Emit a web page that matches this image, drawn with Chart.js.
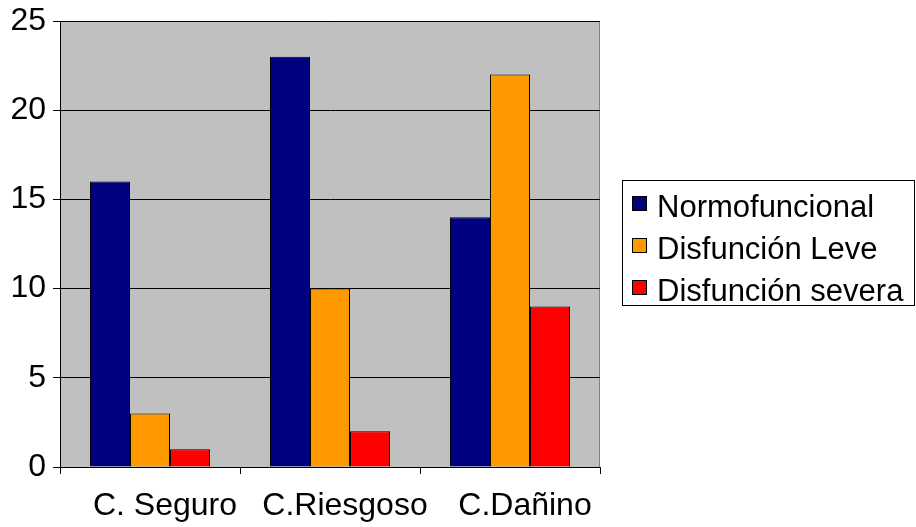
<!DOCTYPE html>
<html>
<head>
<meta charset="utf-8">
<script src="https://cdn.jsdelivr.net/npm/chart.js@4"></script>
<style>
  html, body { margin: 0; padding: 0; background: #ffffff; }
  #wrap { position: relative; width: 916px; height: 527px; }
</style>
</head>
<body>
<div id="wrap"><canvas id="chart"></canvas></div>
<script>
// datos
const categories = ['C. Seguro', 'C.Riesgoso', 'C.Dañino'];
const seriesNames = ['Normofuncional', 'Disfunción Leve', 'Disfunción severa'];
const normofuncional = [16, 23, 14];
const disfuncionLeve = [3, 10, 22];
const disfuncionSevera = [1, 2, 9];
const seriesColors = ['#000080', '#FF9900', '#FF0000'];

const FONT = "'Liberation Sans', Arial, sans-serif";

// fondo gris del area de trazado
const plotBackground = {
  id: 'plotBackground',
  beforeDraw(chart) {
    const { ctx, chartArea: a } = chart;
    ctx.save();
    ctx.fillStyle = '#C0C0C0';
    ctx.fillRect(a.left, a.top, a.right - a.left, a.bottom - a.top);
    ctx.strokeStyle = '#808080';
    ctx.lineWidth = 1;
    ctx.beginPath();
    ctx.moveTo(a.left, a.top + 0.5);
    ctx.lineTo(a.right - 0.5, a.top + 0.5);
    ctx.lineTo(a.right - 0.5, a.bottom);
    ctx.stroke();
    ctx.restore();
  }
};

// leyenda con marco, como en Excel
const boxedLegend = {
  id: 'boxedLegend',
  afterDraw(chart) {
    const { ctx } = chart;
    const x0 = 622, y0 = 180, w = 293, h = 126;
    ctx.save();
    ctx.fillStyle = '#ffffff';
    ctx.fillRect(x0, y0, w, h);
    ctx.strokeStyle = '#000000';
    ctx.lineWidth = 1;
    ctx.strokeRect(x0 + 0.5, y0 + 0.5, w - 1, h - 1);
    ctx.font = '31px ' + FONT;
    ctx.textBaseline = 'alphabetic';
    chart.data.datasets.forEach((ds, i) => {
      const cy = 203.5 + i * 42;
      ctx.fillStyle = ds.backgroundColor;
      ctx.fillRect(632.5, cy - 7, 14, 14);
      ctx.strokeStyle = '#000000';
      ctx.strokeRect(632.5, cy - 7, 14, 14);
      ctx.fillStyle = '#000000';
      ctx.fillText(ds.label, 657, cy + 13);
    });
    ctx.restore();
  }
};

new Chart(document.getElementById('chart'), {
  type: 'bar',
  data: {
    labels: categories,
    datasets: [
      { label: seriesNames[0], data: normofuncional, backgroundColor: seriesColors[0] },
      { label: seriesNames[1], data: disfuncionLeve, backgroundColor: seriesColors[1] },
      { label: seriesNames[2], data: disfuncionSevera, backgroundColor: seriesColors[2] }
    ].map(d => Object.assign(d, {
      borderColor: '#000000',
      borderWidth: 1,
      categoryPercentage: 0.667,
      barPercentage: 1
    }))
  },
  options: {
    responsive: true,
    maintainAspectRatio: false,
    animation: false,
    layout: { padding: { top: 21, right: 316, left: 0, bottom: 0 } },
    plugins: {
      legend: { display: false },
      tooltip: { enabled: false }
    },
    scales: {
      x: {
        afterFit: s => { s.height = 60; s.paddingLeft = 0; s.paddingRight = 0; },
        grid: {
          offset: true,
          drawOnChartArea: false,
          color: '#000000',
          tickLength: 7
        },
        border: { color: '#000000', width: 1 },
        ticks: { color: '#000000', padding: 13, labelOffset: 15, font: { family: FONT, size: 32 } }
      },
      y: {
        min: 0,
        max: 25,
        afterFit: s => { s.width = 60; s.paddingTop = 0; s.paddingBottom = 0; },
        grid: { color: '#000000', tickLength: 7 },
        border: { color: '#000000', width: 1 },
        ticks: { stepSize: 5, color: '#000000', padding: 7, font: { family: FONT, size: 32 } }
      }
    }
  },
  plugins: [plotBackground, boxedLegend]
});
</script>
</body>
</html>
